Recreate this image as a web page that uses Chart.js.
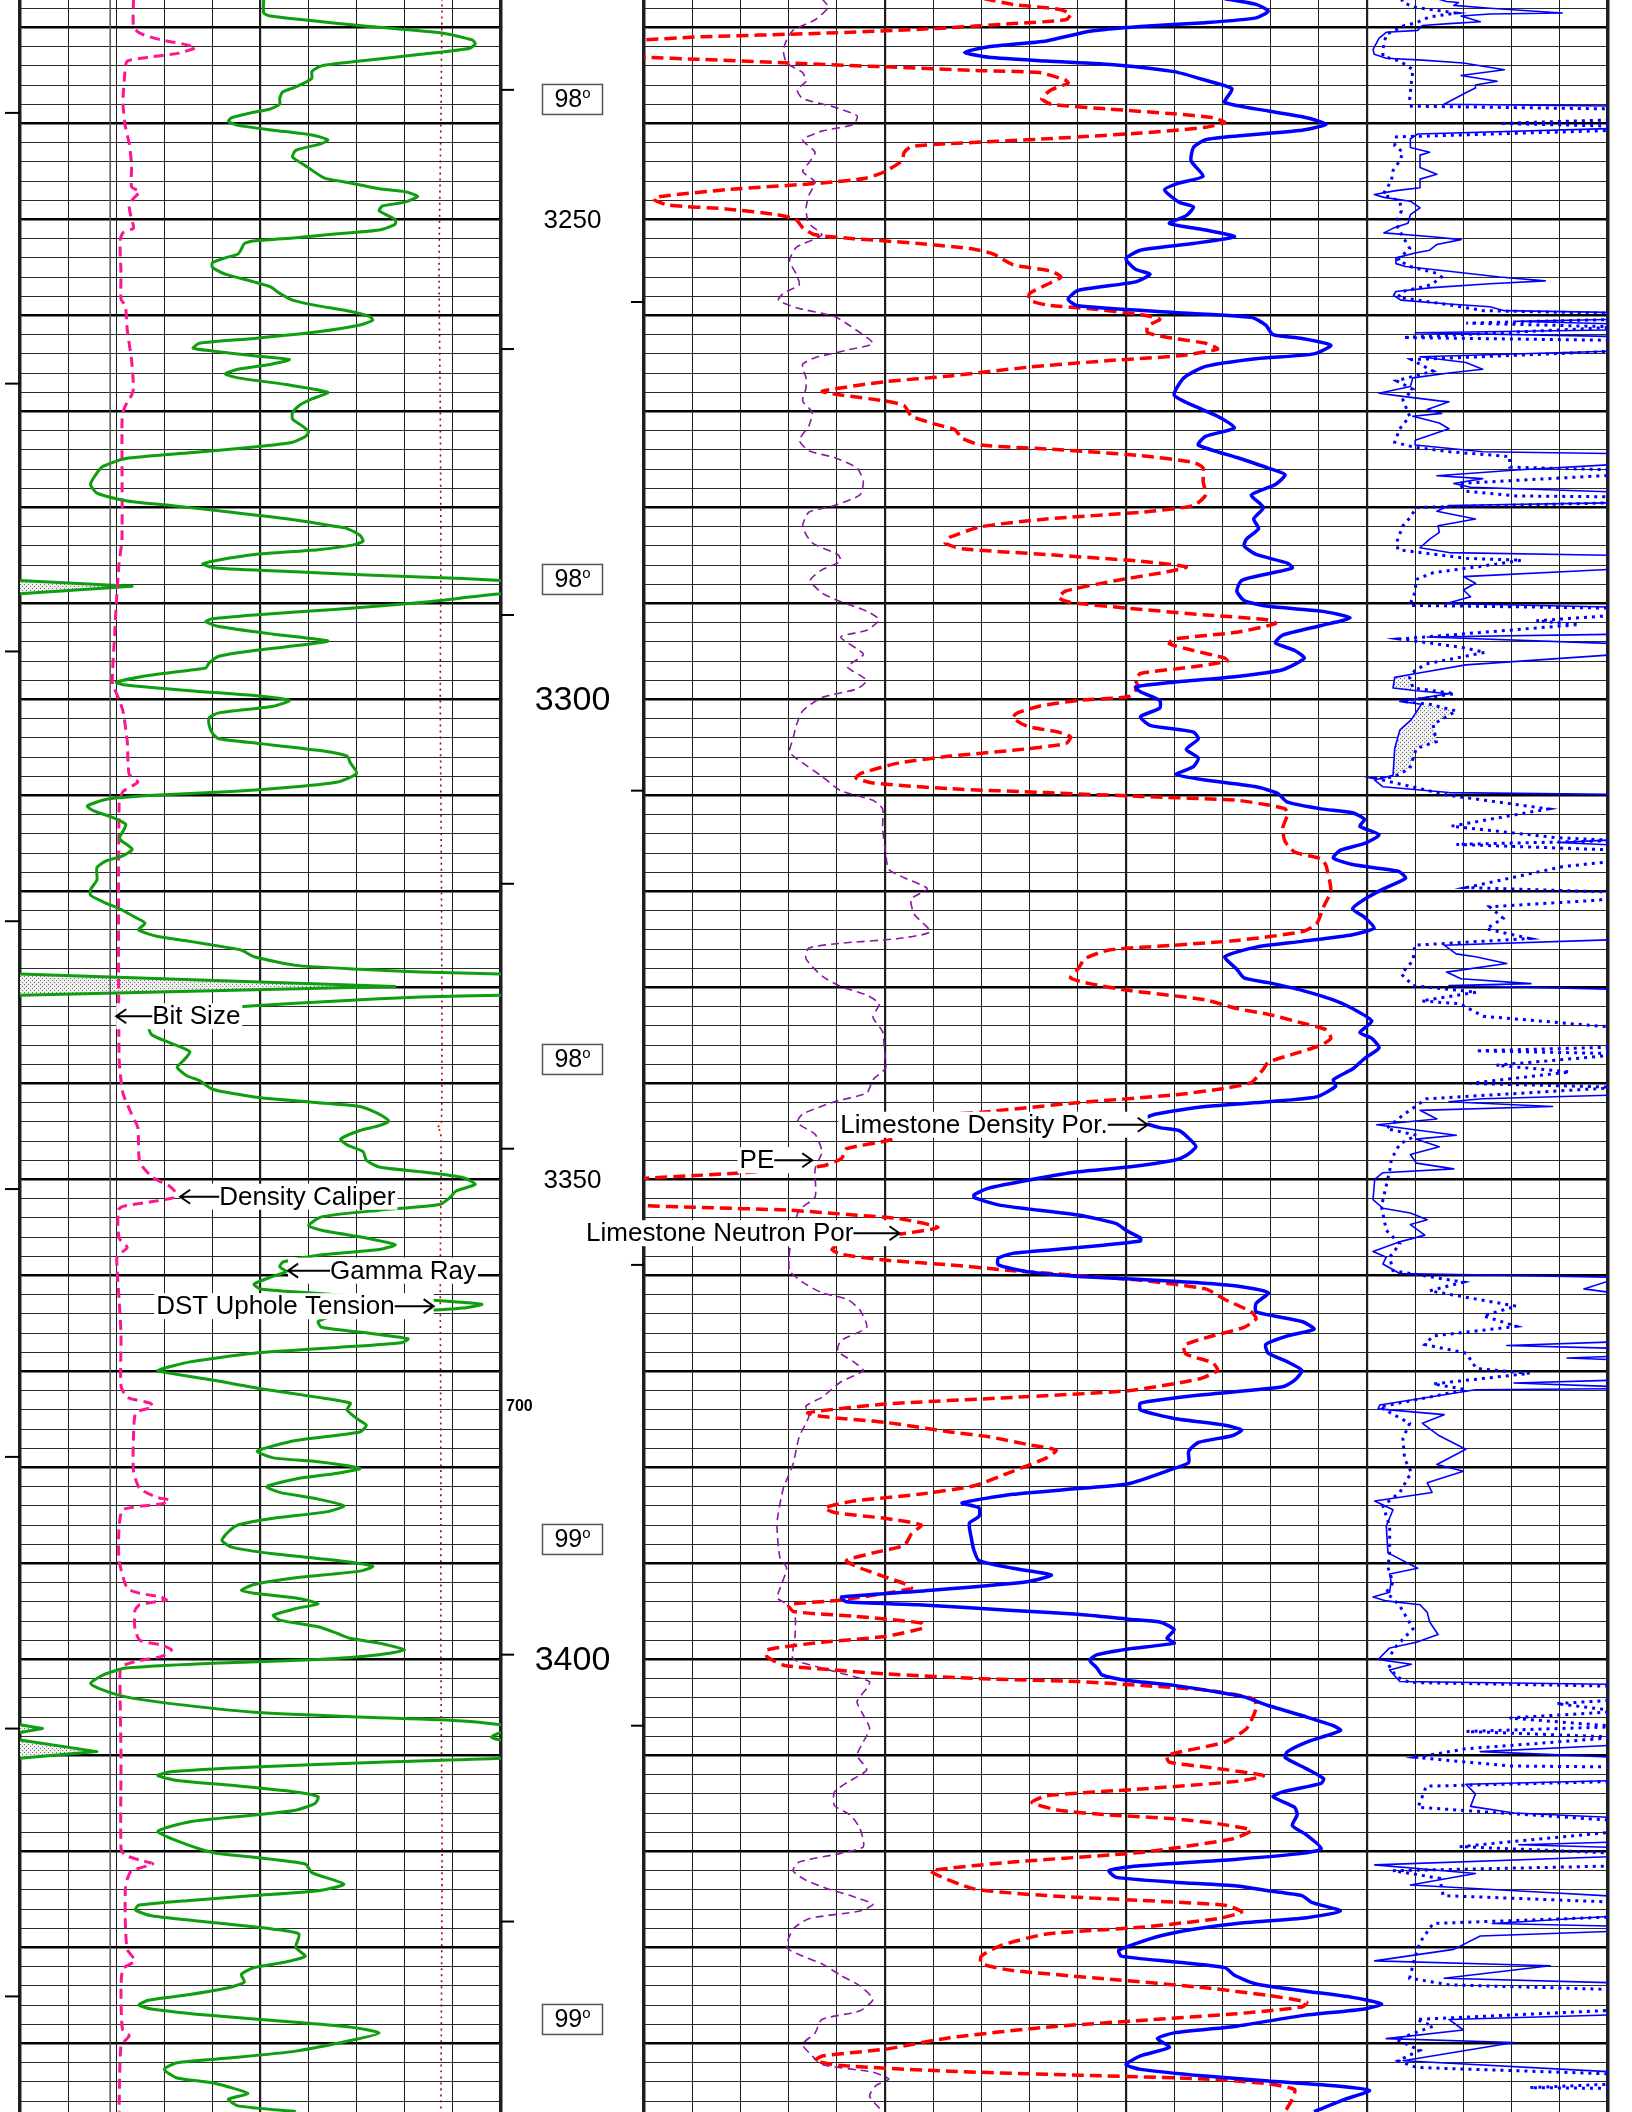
<!DOCTYPE html>
<html>
<head>
<meta charset="utf-8">
<title>Log 3227-3447 ft</title>
<script src="https://cdn.jsdelivr.net/npm/chart.js@4.4.1/dist/chart.umd.min.js"></script>
<style>
  html, body { margin: 0; padding: 0; background: #fff; }
  #sheet { position: relative; width: 1632px; height: 2112px; overflow: hidden; background: #fff; }
  #sheet canvas { position: absolute; top: 0; }
  #trackLeft { left: 0; }
  #trackRight { left: 498px; }
</style>
</head>
<body>
<div id="sheet">
  <canvas id="trackLeft" width="512" height="2112"></canvas>
  <canvas id="trackRight" width="1134" height="2112"></canvas>
</div>
<script>
// depth window shown on the sheet (ft)
const TOP_DEPTH = 3227.14;
const BASE_DEPTH = 3447.14;

// ---- track 1: [depth, value] ----
// gamma ray, API (0-150 across the track, values above 150 run off the edge)
const gammaRay = [
  [3227.0,76],[3228.5,76],[3228.8,78],[3229.8,106],[3230.6,132],[3231.3,141],[3231.7,142],[3232.2,140],[3232.8,125],[3233.5,106],
  [3234.0,94],[3234.6,91],[3235.3,91],[3236.2,86],[3236.7,82],[3237.4,81],[3238.0,81],[3238.5,78],[3238.9,72],[3239.4,66],
  [3239.8,65],[3240.2,68],[3240.7,79],[3241.2,91],[3241.7,96],[3242.1,94],[3242.8,86],[3243.5,85],[3244.4,89],[3245.7,95],
  [3246.2,103],[3246.8,112],[3247.1,120],[3247.6,124],[3248.2,120],[3248.6,113],[3249.1,112],[3250.0,117],[3250.5,117],[3251.1,112],
  [3251.5,99],[3251.9,86],[3252.2,74],[3252.5,70],[3253.1,69],[3253.6,68],[3254.0,64],[3254.5,60],[3255.0,60],[3255.7,64],
  [3256.5,73],[3257.0,78],[3257.7,81],[3258.4,85],[3259.0,93],[3259.5,102],[3260.1,109],[3260.5,110],[3261.0,106],[3261.7,93],
  [3262.4,73],[3262.9,56],[3263.4,54],[3263.7,60],[3264.2,73],[3264.6,84],[3265.1,78],[3265.6,68],[3266.1,64],[3266.5,68],
  [3267.2,83],[3268.0,96],[3268.7,91],[3269.4,87],[3270.1,85],[3270.8,85],[3271.5,88],[3272.1,90],[3272.6,89],[3273.2,85],
  [3273.7,73],[3274.3,53],[3274.9,33],[3275.7,26],[3276.4,24],[3277.6,22],[3278.5,24],[3279.3,33],[3279.8,47],[3280.5,66],
  [3281.3,86],[3282.0,99],[3282.2,102],[3282.9,106],[3283.5,107],[3283.9,104],[3284.4,93],[3284.9,73],[3285.6,60],[3285.9,57],
  [3286.3,61],[3286.7,86],[3287.1,112],[3287.4,138],[3287.6,150],[3288.2,185],[3289.0,150],[3289.9,125],[3290.6,99],[3291.2,73],
  [3291.6,60],[3291.9,58],[3292.4,62],[3293.2,79],[3293.9,96],[3294.2,91],[3294.9,73],[3295.5,62],[3296.2,59],[3296.7,58],
  [3296.9,54],[3297.5,40],[3298.2,30],[3298.5,33],[3299.1,53],[3299.6,73],[3300.1,84],[3300.7,79],[3301.4,62],[3301.9,59],
  [3302.7,59],[3303.5,60],[3304.1,62],[3304.6,75],[3305.3,93],[3305.9,102],[3306.6,103],[3307.7,105],[3308.6,99],[3309.1,86],
  [3309.6,66],[3310.0,40],[3310.4,27],[3311.1,21],[3311.6,23],[3312.3,29],[3313.0,33],[3313.8,32],[3314.5,31],[3315.6,35],
  [3316.3,32],[3316.8,27],[3317.5,24],[3318.8,24],[3319.8,22],[3320.4,22],[3321.1,26],[3321.8,31],[3322.7,36],[3323.3,39],
  [3324.0,37],[3324.7,43],[3325.2,53],[3325.8,64],[3326.1,69],[3326.8,73],[3327.7,86],[3328.1,106],[3328.4,125],[3328.6,150],
  [3329.9,267],[3330.8,150],[3331.0,125],[3331.4,99],[3331.9,73],[3332.4,53],[3333.1,43],[3333.8,40],[3334.9,41],[3335.8,47],
  [3336.7,53],[3337.6,51],[3338.3,49],[3339.2,52],[3339.7,56],[3340.6,60],[3341.4,73],[3342.0,93],[3342.4,106],[3343.2,112],
  [3343.9,115],[3344.4,112],[3344.9,106],[3345.8,100],[3346.4,102],[3347.1,107],[3348.0,108],[3348.7,112],[3349.2,125],[3349.8,138],
  [3350.5,142],[3351.2,136],[3351.9,134],[3352.6,131],[3353.2,112],[3353.9,94],[3354.8,90],[3355.3,94],[3356.1,108],[3356.8,117],
  [3357.3,112],[3357.9,93],[3358.6,82],[3359.1,81],[3359.6,83],[3360.2,78],[3360.9,73],[3361.4,75],[3362.0,99],[3362.5,125],
  [3363.0,144],[3363.4,138],[3363.7,125],[3364.1,99],[3364.8,93],[3365.4,94],[3365.9,106],[3366.6,121],[3367.0,119],[3367.5,99],
  [3368.1,73],[3369.0,53],[3369.9,43],[3370.2,47],[3370.9,60],[3371.8,75],[3372.7,93],[3373.3,103],[3374.0,102],[3374.9,105],
  [3375.6,108],[3376.3,106],[3377.2,86],[3378.3,74],[3379.0,79],[3379.4,93],[3380.1,106],[3380.6,99],[3381.2,86],[3382.0,77],
  [3382.6,81],[3383.3,93],[3384.0,101],[3384.6,96],[3385.3,79],[3386.0,68],[3386.7,65],[3387.6,63],[3388.3,66],[3389.0,79],
  [3389.7,99],[3390.3,110],[3390.8,106],[3391.5,86],[3392.2,73],[3392.8,69],[3393.1,73],[3393.6,86],[3394.2,93],[3394.7,86],
  [3395.4,79],[3395.9,81],[3396.6,93],[3397.3,99],[3397.8,103],[3398.3,112],[3399.0,120],[3399.5,112],[3400.0,93],[3400.4,60],
  [3400.9,33],[3401.6,26],[3402.5,22],[3403.2,26],[3403.9,33],[3404.6,47],[3405.5,73],[3406.0,106],[3406.4,138],[3406.8,150],
  [3407.2,157],[3407.6,150],[3408.1,147],[3408.4,150],[3409.6,174],[3410.3,150],[3410.7,112],[3411.2,73],[3411.7,47],[3412.1,43],
  [3412.6,49],[3413.1,66],[3413.8,86],[3414.3,93],[3415.0,92],[3415.7,86],[3416.2,73],[3416.9,53],[3417.9,43],[3418.9,49],
  [3420.1,60],[3420.6,73],[3421.3,89],[3422.2,91],[3423.4,101],[3424.1,93],[3424.6,73],[3425.1,53],[3425.6,37],[3426.1,36],
  [3426.7,41],[3427.4,60],[3428.1,79],[3428.6,87],[3430.0,86],[3430.9,89],[3431.5,83],[3432.1,73],[3432.8,69],[3433.6,70],
  [3434.2,65],[3434.9,53],[3435.5,40],[3436.0,37],[3436.4,41],[3437.1,60],[3437.8,86],[3438.3,103],[3438.9,112],[3439.7,103],
  [3440.8,86],[3441.5,66],[3442.0,49],[3442.7,45],[3443.6,49],[3444.1,60],[3445.2,71],[3445.8,65],[3446.5,68],[3447.1,86]
];
// the part of gamma ray above 150 API, replotted from the left edge (GR - 150)
const gammaWrap = [
  [3287.6,0],[3288.2,35],[3289.0,0],[3300.0,null],
  [3328.6,0],[3329.9,117],[3330.8,0],[3360.0,null],
  [3406.8,0],[3407.2,7],[3407.6,0],[3408.0,null],
  [3408.4,0],[3409.6,24],[3410.3,0]
];
// density caliper, in (6-16)
const densityCaliper = [
  [3227.0,8.36],[3229.9,8.36],[3230.6,8.49],[3231.3,8.93],[3231.7,9.37],[3232.1,9.65],[3232.7,9.28],[3233.1,8.67],[3233.5,8.23],[3234.2,8.19],
  [3237.8,8.14],[3240.3,8.19],[3242.1,8.27],[3244.3,8.32],[3246.6,8.32],[3247.1,8.49],[3247.8,8.36],[3248.6,8.27],[3250.0,8.32],[3250.9,8.36],
  [3251.4,8.14],[3252.2,8.08],[3255.7,8.10],[3258.3,8.10],[3259.0,8.19],[3261.5,8.23],[3264.7,8.32],[3267.6,8.36],[3268.3,8.32],[3269.0,8.23],
  [3270.1,8.14],[3271.2,8.12],[3283.3,8.12],[3285.8,8.06],[3289.4,8.01],[3293.0,7.97],[3298.4,7.92],[3299.4,8.01],[3301.2,8.14],[3304.4,8.23],
  [3307.8,8.27],[3308.6,8.45],[3309.6,8.14],[3310.9,8.06],[3337.4,8.06],[3341.0,8.14],[3343.2,8.32],[3344.6,8.45],[3348.2,8.49],[3349.8,8.76],
  [3350.7,9.11],[3351.4,9.24],[3351.9,9.19],[3352.3,8.76],[3352.8,8.14],[3353.2,8.04],[3356.1,8.06],[3357.1,8.23],[3357.8,8.06],[3358.2,8.01],
  [3362.5,8.06],[3366.1,8.10],[3371.5,8.10],[3372.7,8.23],[3373.3,8.71],[3373.7,8.76],[3374.3,8.41],[3376.8,8.36],[3380.4,8.36],[3382.2,8.49],
  [3383.1,8.84],[3383.4,9.11],[3383.8,8.93],[3384.4,8.14],[3386.2,8.06],[3389.7,8.06],[3392.6,8.23],[3393.1,8.49],[3393.5,8.93],[3393.8,9.04],
  [3394.3,8.49],[3394.9,8.39],[3396.8,8.39],[3398.0,8.49],[3398.5,8.93],[3399.0,9.15],[3399.7,8.93],[3400.2,8.41],[3400.8,8.10],[3403.0,8.08],
  [3410.0,8.10],[3419.7,8.10],[3420.4,8.19],[3420.9,8.49],[3421.3,8.76],[3422.0,8.32],[3422.9,8.23],[3423.9,8.19],[3427.4,8.19],[3430.2,8.23],
  [3431.4,8.39],[3432.2,8.14],[3434.3,8.10],[3438.5,8.13],[3439.2,8.27],[3440.2,8.10],[3447.1,8.06]
];
const bitSize = [[3227.0,7.875],[3447.2,7.875]];
// DST uphole tension (0-800 scale)
const dstTension = [
  [3227.0,702],[3240.0,700],[3255.0,697],[3270.0,699],[3285.0,700],[3300.0,699],[3320.0,701],[3344.2,701],
  [3344.6,693],[3345.0,700],[3360.0,699],[3380.0,700],[3400.0,700],[3420.0,702],[3447.2,700]
];

// ---- track 2/3 ----
// photoelectric factor, b/e (0-20 across the track)
const pePhoto = [
  [3227.0,3.69],[3227.9,3.82],[3229.2,3.55],[3230.3,3.09],[3231.3,2.96],[3232.4,2.89],[3233.7,2.96],[3234.7,3.29],[3235.6,3.36],[3236.5,3.18],
  [3237.4,3.29],[3238.3,3.95],[3239.2,4.42],[3240.1,4.35],[3240.8,3.69],[3241.7,3.29],[3243.0,3.55],[3244.1,3.42],[3245.0,3.29],[3246.1,3.55],
  [3247.5,3.42],[3248.9,3.36],[3250.4,3.42],[3251.6,3.69],[3252.9,3.16],[3254.3,3.02],[3255.7,3.16],[3256.8,3.22],[3257.7,2.89],[3258.4,2.79],
  [3259.2,3.16],[3260.1,3.95],[3261.1,4.28],[3262.9,4.75],[3263.6,4.22],[3264.4,3.55],[3265.1,3.29],[3266.5,3.36],[3267.6,3.36],[3268.9,3.29],
  [3270.1,3.49],[3271.5,3.42],[3273.0,3.22],[3274.1,3.42],[3274.8,3.95],[3275.9,4.42],[3277.3,4.55],[3278.7,4.48],[3279.8,3.95],[3280.5,3.42],
  [3282.0,3.29],[3283.7,3.49],[3284.9,4.02],[3285.6,4.08],[3286.5,3.69],[3287.6,3.45],[3288.9,3.69],[3289.7,4.02],[3290.8,4.62],[3291.7,4.88],
  [3292.8,4.62],[3293.5,4.08],[3295.3,4.55],[3296.6,4.22],[3298.0,4.62],[3298.9,4.42],[3299.8,3.69],[3301.2,3.29],[3302.7,3.16],[3304.1,3.09],
  [3305.5,3.02],[3306.6,3.29],[3308.0,3.69],[3309.5,4.08],[3310.5,4.75],[3311.4,4.95],[3313.4,4.95],[3315.9,5.01],[3317.7,5.08],[3318.6,5.41],
  [3319.7,5.88],[3320.8,5.54],[3322.4,5.61],[3324.2,5.94],[3324.9,5.28],[3325.4,4.08],[3325.9,3.42],[3327.0,3.36],[3328.8,3.69],[3329.9,4.08],
  [3330.8,4.62],[3331.7,4.88],[3333.1,4.75],[3334.6,4.95],[3336.7,4.99],[3338.4,5.01],[3339.6,4.75],[3341.0,4.62],[3341.9,3.95],[3343.2,3.29],
  [3344.1,3.18],[3345.3,3.55],[3347.1,3.69],[3348.9,3.55],[3351.8,3.55],[3353.2,3.22],[3355.3,3.09],[3357.5,3.02],[3359.5,3.02],[3360.7,3.29],
  [3361.8,3.69],[3362.5,4.22],[3363.6,4.48],[3365.4,4.62],[3366.8,4.08],[3367.9,4.02],[3369.0,4.35],[3369.9,4.55],[3371.1,4.08],[3372.7,3.69],
  [3373.6,3.36],[3374.7,3.42],[3376.8,3.22],[3379.7,3.09],[3382.2,2.89],[3385.8,2.76],[3389.4,2.82],[3390.5,2.96],[3393.6,2.76],[3394.0,2.89],
  [3395.4,3.13],[3397.8,3.13],[3399.9,3.09],[3400.9,3.69],[3401.6,4.22],[3402.3,4.68],[3403.0,4.62],[3404.4,4.42],[3405.8,4.55],[3407.2,4.68],
  [3408.6,4.55],[3410.0,4.42],[3411.5,4.62],[3412.8,4.22],[3413.8,3.95],[3415.2,3.95],[3416.2,4.28],[3417.6,4.48],[3419.5,4.55],[3420.2,4.08],
  [3421.1,3.22],[3422.0,3.09],[3423.0,3.36],[3423.9,3.82],[3424.6,4.28],[3425.5,4.75],[3426.2,4.48],[3427.0,3.42],[3428.1,3.09],[3430.0,2.96],
  [3430.9,3.29],[3431.7,3.69],[3432.9,4.08],[3434.0,4.48],[3435.4,4.75],[3436.6,4.48],[3437.5,3.69],[3438.9,3.55],[3440.1,3.29],[3441.3,3.49],
  [3442.2,3.69],[3443.0,4.75],[3443.7,5.08],[3444.4,4.81],[3445.5,4.68],[3447.1,4.95]
];
// limestone neutron porosity, % (30 to -10)
const neutronPor = [
  [3227.0,15.9],[3227.6,14.7],[3228.1,12.8],[3228.6,12.3],[3229.2,12.5],[3229.6,14.7],[3230.1,17.8],[3230.6,22.6],[3231.0,27.9],[3231.3,30.0],
  [3232.0,34.0],[3233.1,29.8],[3233.3,27.9],[3233.7,24.0],[3234.1,20.0],[3234.5,16.0],[3234.7,13.6],[3235.5,12.5],[3235.8,12.4],[3236.5,13.1],
  [3237.4,13.5],[3238.0,13.1],[3238.5,10.7],[3239.0,8.0],[3239.4,6.4],[3239.9,5.9],[3240.4,6.7],[3241.0,9.4],[3241.6,13.3],[3242.1,17.3],
  [3242.4,18.9],[3243.0,19.2],[3243.9,19.3],[3245.0,20.0],[3245.7,20.8],[3246.2,22.6],[3246.9,26.6],[3247.6,29.3],[3247.9,29.6],[3248.5,29.0],
  [3248.9,26.6],[3249.5,24.5],[3250.0,23.7],[3250.9,23.4],[3251.6,22.9],[3252.0,21.3],[3252.5,18.6],[3253.1,16.3],[3253.6,15.5],[3254.7,14.7],
  [3255.4,13.1],[3256.0,12.7],[3256.8,13.3],[3257.7,14.0],[3258.4,14.0],[3258.9,13.3],[3259.3,11.5],[3259.9,9.4],[3260.4,8.6],[3261.1,9.1],
  [3261.8,9.1],[3262.4,8.0],[3262.9,6.7],[3263.5,6.2],[3264.2,7.8],[3264.7,10.7],[3265.4,14.1],[3266.3,17.3],[3266.9,20.0],[3267.9,22.6],
  [3268.3,21.8],[3268.9,20.0],[3269.4,19.2],[3270.5,18.9],[3271.4,17.8],[3271.9,17.1],[3272.8,16.8],[3273.5,16.0],[3273.9,13.3],[3274.6,9.4],
  [3275.3,7.2],[3275.9,6.8],[3277.3,6.8],[3278.7,6.7],[3279.8,7.2],[3280.5,9.4],[3281.2,13.3],[3282.0,16.0],[3283.1,17.3],[3283.7,17.5],
  [3284.3,16.8],[3284.9,13.3],[3285.6,9.4],[3286.2,7.5],[3286.7,8.3],[3287.6,10.4],[3288.7,12.5],[3289.4,12.8],[3289.9,12.3],[3290.5,9.9],
  [3291.2,6.7],[3291.7,4.1],[3292.1,3.8],[3293.0,5.4],[3293.7,8.0],[3294.2,8.2],[3294.9,7.2],[3295.7,5.9],[3296.0,5.8],[3296.6,7.2],
  [3297.3,9.4],[3298.0,9.6],[3298.7,9.5],[3299.7,9.9],[3300.1,12.0],[3300.7,13.6],[3301.4,14.5],[3301.9,14.7],[3302.8,14.1],[3303.4,12.8],
  [3303.9,12.3],[3304.6,12.5],[3305.3,14.7],[3305.9,17.3],[3306.6,19.4],[3307.7,21.0],[3308.2,21.2],[3308.7,20.5],[3309.3,17.3],[3309.7,13.3],
  [3310.1,9.4],[3310.5,5.4],[3311.0,4.1],[3311.4,3.4],[3312.0,3.3],[3313.4,3.5],[3314.8,3.4],[3315.9,3.0],[3316.6,1.9],[3317.3,1.7],
  [3319.9,1.5],[3321.6,1.8],[3323.4,2.1],[3324.2,2.7],[3325.1,5.4],[3325.6,8.0],[3326.1,10.7],[3327.0,11.7],[3328.1,12.0],[3329.0,12.3],
  [3329.6,11.5],[3330.3,9.9],[3331.3,6.7],[3332.2,5.4],[3332.8,4.1],[3333.7,2.7],[3334.4,1.7],[3335.3,1.5],[3336.0,1.9],[3336.9,3.0],
  [3337.8,4.1],[3338.5,4.3],[3339.9,4.8],[3340.5,5.9],[3341.2,8.0],[3342.0,12.0],[3343.0,16.0],[3343.5,18.6],[3344.6,19.4],[3345.8,19.7],
  [3346.8,21.6],[3347.8,21.8],[3348.6,22.6],[3349.2,25.3],[3349.6,27.9],[3349.9,30.0],[3351.2,35.0],[3352.7,30.0],[3352.9,27.9],[3353.2,24.0],
  [3353.7,21.3],[3354.1,19.4],[3355.0,17.8],[3355.7,19.4],[3356.6,21.8],[3357.3,22.2],[3357.8,21.8],[3358.4,20.0],[3358.9,17.3],[3359.5,14.7],
  [3360.0,12.0],[3360.5,9.4],[3361.4,6.7],[3362.5,5.9],[3363.8,4.8],[3364.5,4.6],[3365.4,5.1],[3366.5,6.7],[3367.3,7.6],[3368.2,7.5],
  [3369.1,6.4],[3369.9,6.2],[3370.8,7.0],[3372.0,9.9],[3372.7,14.7],[3373.4,20.0],[3374.3,23.2],[3374.7,22.6],[3375.3,20.0],[3376.3,17.3],
  [3376.8,15.7],[3377.6,14.1],[3378.2,12.9],[3379.0,13.3],[3380.4,14.7],[3381.9,16.3],[3382.8,18.6],[3383.5,21.3],[3384.2,22.5],[3384.7,22.1],
  [3385.3,20.0],[3386.0,18.5],[3386.9,18.9],[3388.1,19.2],[3388.9,20.5],[3389.7,21.6],[3390.5,21.0],[3391.4,20.0],[3392.1,19.2],[3392.6,18.9],
  [3393.8,21.8],[3394.3,24.0],[3395.0,23.8],[3395.5,21.3],[3396.2,18.5],[3396.7,18.4],[3397.6,20.0],[3398.2,22.6],[3399.0,24.9],[3399.7,24.9],
  [3400.6,24.2],[3401.0,22.6],[3401.5,20.0],[3402.0,16.0],[3402.3,12.0],[3402.7,9.4],[3403.2,6.7],[3404.1,4.7],[3405.1,4.6],[3407.2,5.0],
  [3408.6,5.9],[3410.0,8.3],[3410.7,8.2],[3411.2,6.7],[3412.1,4.3],[3412.7,5.4],[3413.5,9.4],[3414.2,13.3],[3414.9,13.9],[3415.7,12.8],
  [3416.2,10.7],[3416.6,8.0],[3417.1,6.2],[3417.8,4.8],[3418.7,5.6],[3420.1,9.4],[3421.1,14.7],[3422.0,18.1],[3422.5,17.8],[3423.9,16.3],
  [3424.6,13.3],[3425.1,9.4],[3425.6,5.9],[3426.3,5.2],[3427.0,6.2],[3427.9,9.4],[3428.6,13.3],[3429.8,15.2],[3430.9,16.0],[3431.7,16.0],
  [3432.4,14.7],[3433.3,10.7],[3434.2,6.7],[3435.0,4.1],[3435.7,2.5],[3436.2,2.7],[3436.9,5.4],[3437.6,9.4],[3438.3,13.3],[3439.4,17.3],
  [3440.6,20.0],[3441.3,22.6],[3441.8,22.9],[3442.3,21.8],[3442.9,17.3],[3443.3,12.0],[3443.7,6.7],[3444.2,4.1],[3444.8,3.0],[3445.8,3.1],
  [3447.1,3.4]
];
// limestone density porosity, % (30 to -10)
const densityPor = [
  [3227.0,5.9],[3227.6,4.6],[3228.3,4.1],[3229.0,4.6],[3229.5,6.7],[3229.9,9.4],[3230.4,11.5],[3231.4,13.3],[3232.0,15.7],[3232.6,16.7],
  [3233.1,15.7],[3233.5,13.3],[3233.9,10.4],[3234.6,8.0],[3235.5,6.7],[3236.4,5.6],[3237.8,5.9],[3238.7,4.1],[3239.4,2.5],[3240.1,1.7],
  [3240.7,2.7],[3241.3,5.4],[3241.7,6.7],[3242.5,7.2],[3243.9,7.3],[3245.5,6.8],[3246.2,7.8],[3246.9,8.4],[3248.2,7.8],[3248.7,7.2],
  [3249.6,7.5],[3250.4,8.2],[3251.1,6.7],[3251.8,5.5],[3252.5,7.2],[3253.2,9.4],[3254.1,10.0],[3255.2,9.6],[3255.7,9.0],[3256.5,9.6],
  [3257.4,12.0],[3258.3,12.4],[3259.0,12.0],[3259.7,8.0],[3260.2,4.8],[3261.0,4.2],[3262.0,3.9],[3262.4,2.7],[3263.1,1.5],[3264.0,2.2],
  [3264.5,4.6],[3265.3,6.7],[3266.5,7.6],[3268.3,8.0],[3269.4,7.2],[3270.5,6.2],[3271.7,5.5],[3272.6,6.7],[3273.5,7.0],[3274.8,5.4],
  [3275.9,4.1],[3276.6,3.4],[3277.6,3.8],[3278.7,4.8],[3280.0,4.3],[3281.2,4.7],[3282.2,4.5],[3283.3,5.0],[3284.0,5.1],[3284.9,4.6],
  [3285.8,3.3],[3286.3,3.1],[3286.9,4.1],[3287.6,5.2],[3288.7,5.4],[3289.7,5.1],[3290.3,4.1],[3290.8,1.9],[3291.5,0.7],[3292.3,1.9],
  [3293.3,3.5],[3294.1,3.8],[3294.9,3.0],[3295.7,2.6],[3296.9,3.5],[3297.6,5.4],[3298.2,8.0],[3298.7,9.6],[3299.2,9.4],[3300.1,8.6],
  [3300.9,8.6],[3301.8,9.4],[3302.7,9.0],[3303.4,7.2],[3304.1,7.0],[3305.2,7.5],[3306.1,7.0],[3307.0,7.2],[3307.8,7.9],[3308.4,6.7],
  [3309.1,4.6],[3309.8,3.7],[3310.7,3.3],[3311.4,1.9],[3311.8,0.6],[3312.5,0.1],[3313.2,0.3],[3314.1,-0.5],[3315.0,0.1],[3315.7,1.1],
  [3316.5,1.4],[3317.2,0.6],[3317.9,-1.3],[3318.6,-1.6],[3319.7,-0.7],[3320.8,0.1],[3321.8,0.6],[3322.7,0.1],[3323.8,-0.3],[3324.5,0.6],
  [3325.2,2.7],[3325.8,4.6],[3326.8,5.9],[3328.1,5.4],[3329.0,5.1],[3329.5,4.1],[3330.3,2.7],[3331.3,1.4],[3332.2,0.6],[3333.5,-0.2],
  [3334.7,0.3],[3335.3,-0.2],[3336.3,-0.5],[3337.4,0.1],[3338.5,0.6],[3339.6,1.4],[3340.3,1.3],[3341.4,2.1],[3341.9,4.1],[3342.4,6.7],
  [3343.2,8.8],[3343.9,9.4],[3344.6,8.6],[3344.9,7.8],[3345.7,7.4],[3346.6,7.1],[3347.5,7.5],[3348.0,8.0],[3348.7,9.9],[3349.2,12.0],
  [3350.0,13.9],[3350.9,15.7],[3351.6,16.3],[3351.9,16.3],[3352.7,15.2],[3353.7,12.0],[3354.6,10.4],[3355.3,10.0],[3356.1,9.4],[3356.4,9.4],
  [3357.1,12.0],[3357.7,14.7],[3358.2,15.3],[3358.9,15.3],[3359.6,14.1],[3360.1,12.0],[3360.6,8.0],[3361.1,5.4],[3361.8,4.1],[3362.9,4.6],
  [3363.8,4.6],[3364.8,2.7],[3365.6,2.2],[3366.3,3.3],[3367.2,4.2],[3368.1,4.1],[3369.0,3.3],[3369.9,2.7],[3370.9,3.0],[3371.6,3.5],
  [3372.4,6.7],[3373.3,9.4],[3374.0,9.4],[3374.9,8.0],[3375.6,5.9],[3376.1,5.2],[3376.7,5.6],[3377.4,7.0],[3378.3,7.4],[3379.5,7.4],
  [3380.1,8.0],[3381.7,9.9],[3382.2,12.0],[3382.8,14.7],[3383.7,16.8],[3384.2,16.1],[3385.1,16.1],[3385.8,16.5],[3387.6,16.4],[3388.7,16.3],
  [3389.7,16.1],[3390.5,14.7],[3391.2,13.1],[3391.9,14.1],[3392.9,18.6],[3393.5,21.8],[3394.0,21.6],[3394.3,18.6],[3394.9,14.7],[3395.3,12.0],
  [3395.8,9.9],[3396.1,8.6],[3396.9,8.0],[3397.8,8.3],[3398.3,8.0],[3398.9,9.9],[3399.5,11.2],[3400.1,11.5],[3400.9,11.2],[3401.6,11.0],
  [3402.2,9.9],[3402.7,8.0],[3403.4,6.2],[3403.9,5.1],[3404.8,4.1],[3406.0,2.5],[3406.9,1.4],[3407.4,1.1],[3408.6,2.5],[3409.6,3.3],
  [3410.2,3.4],[3411.4,2.5],[3412.4,1.8],[3412.9,1.9],[3413.8,3.5],[3414.3,3.9],[3415.4,3.0],[3416.2,2.9],[3417.3,3.1],[3418.3,2.5],
  [3419.7,1.9],[3420.2,2.7],[3420.8,5.4],[3421.5,9.4],[3422.0,10.7],[3422.7,10.4],[3423.2,8.0],[3423.6,5.4],[3424.1,4.1],[3424.6,2.7],
  [3425.3,2.3],[3426.2,1.1],[3426.9,2.5],[3427.5,5.4],[3428.1,7.2],[3428.8,8.6],[3429.6,9.6],[3430.3,10.3],[3430.9,10.2],[3431.5,8.0],
  [3432.1,5.9],[3432.9,5.5],[3433.8,4.6],[3434.5,2.7],[3435.2,0.6],[3435.9,-0.6],[3436.4,0.1],[3437.1,2.7],[3438.2,5.4],[3438.9,8.0],
  [3439.5,8.7],[3440.4,8.2],[3441.3,9.4],[3442.2,10.0],[3442.7,9.4],[3443.4,6.7],[3443.9,4.1],[3444.4,1.4],[3444.9,-0.1],[3445.8,0.9],
  [3446.9,2.0],[3447.1,2.2]
];
// micro log, ohm-m (0-10 over the right quarter); 10.5 = pegged off the edge
const microNormal = [
  [3227.0,2.9],[3227.3,3.3],[3227.4,3.8],[3227.7,3.6],[3228.0,5.1],[3228.5,8.1],[3228.6,5.1],[3228.8,3.9],[3229.4,4.7],[3229.6,3.4],
  [3229.8,2.3],[3230.3,2.1],[3230.5,0.8],[3231.1,0.5],[3232.3,0.25],[3232.8,0.3],[3233.2,0.8],[3233.4,2.3],[3233.7,4.0],[3234.4,5.7],
  [3235.0,3.9],[3235.6,5.4],[3236.0,4.5],[3236.3,4.5],[3236.8,4.1],[3238.0,3.2],[3238.2,10.5],[3240.5,10.5],[3241.1,2.1],[3241.6,1.8],
  [3242.5,1.8],[3243.0,2.6],[3243.3,2.2],[3244.6,2.2],[3245.3,2.9],[3245.8,2.2],[3246.7,2.2],[3247.0,1.2],[3247.4,0.3],[3247.7,0.7],
  [3248.1,1.8],[3248.8,2.2],[3249.5,1.8],[3250.4,1.7],[3250.9,1.1],[3251.4,0.7],[3251.8,2.7],[3252.1,3.9],[3252.6,2.9],[3253.2,2.6],
  [3253.5,2.0],[3254.0,1.2],[3254.6,1.2],[3254.9,1.6],[3255.4,3.4],[3256.0,5.5],[3256.4,7.4],[3256.7,5.1],[3257.1,2.7],[3257.5,1.2],
  [3257.9,1.1],[3258.4,1.4],[3258.8,3.4],[3259.1,5.1],[3259.5,5.7],[3259.7,10.5],[3260.4,10.5],[3260.6,6.2],[3260.9,10.5],[3261.5,10.5],
  [3261.8,2.0],[3262.2,10.5],[3263.7,10.5],[3264.3,2.2],[3264.9,4.1],[3265.6,4.8],[3266.0,3.4],[3266.5,1.9],[3267.4,1.8],[3268.1,0.5],
  [3268.4,1.4],[3268.9,3.0],[3269.0,3.4],[3269.8,2.5],[3270.2,3.1],[3270.5,1.9],[3271.2,3.0],[3271.8,3.4],[3273.0,2.0],[3273.5,2.0],
  [3274.2,4.8],[3274.4,10.5],[3275.5,10.5],[3276.1,6.2],[3276.7,2.9],[3277.0,4.8],[3277.5,3.6],[3277.9,4.3],[3278.4,10.5],[3279.5,10.5],
  [3279.8,3.4],[3280.4,2.9],[3281.2,4.5],[3281.9,2.95],[3282.6,3.0],[3283.3,2.6],[3284.2,2.2],[3284.7,3.4],[3285.0,10.5],[3286.4,10.5],
  [3287.2,4.0],[3287.9,4.5],[3288.6,4.0],[3289.3,4.3],[3290.0,3.3],[3290.4,10.5],[3293.2,10.5],[3293.5,2.5],[3294.2,10.5],[3295.3,10.5],
  [3296.4,4.1],[3297.4,1.8],[3297.7,1.15],[3298.8,1.08],[3299.1,2.05],[3299.4,3.4],[3300.2,1.36],[3300.5,2.26],[3302.1,1.84],[3303.2,1.36],
  [3305.1,1.15],[3307.9,1.08],[3308.4,0.32],[3309.1,0.66],[3309.7,3.4],[3309.9,10.5],[3314.6,10.5],[3314.9,7.9],[3315.2,10.5],[3325.0,10.5],
  [3325.6,3.2],[3326.5,3.7],[3326.8,4.5],[3327.5,5.8],[3328.4,3.3],[3329.1,3.9],[3329.6,6.8],[3329.8,3.4],[3330.2,10.5],[3341.2,10.5],
  [3341.6,4.8],[3341.9,3.4],[3342.4,7.7],[3342.8,2.2],[3343.7,2.9],[3344.3,0.4],[3345.4,3.7],[3345.8,2.05],[3346.6,3.0],[3347.4,1.8],
  [3348.3,2.05],[3348.9,3.6],[3349.3,0.66],[3350.0,0.32],[3352.1,0.25],[3353.0,0.66],[3353.5,1.8],[3354.2,2.5],[3354.7,1.8],[3355.8,2.4],
  [3356.5,1.36],[3357.5,0.25],[3358.1,0.8],[3358.8,0.66],[3359.8,1.36],[3360.2,10.5],[3361.4,9.0],[3361.9,10.5],[3366.9,10.5],[3367.3,5.8],
  [3367.6,10.5],[3368.4,10.5],[3368.6,8.3],[3368.8,10.5],[3370.9,10.5],[3371.2,6.1],[3371.6,10.5],[3371.8,10.5],[3371.9,4.5],[3373.5,0.53],
  [3373.9,0.46],[3374.5,3.2],[3375.4,2.3],[3376.7,3.0],[3378.1,4.1],[3379.7,2.9],[3380.4,4.0],[3381.6,2.5],[3382.6,2.7],[3383.5,0.32],
  [3384.4,1.08],[3386.1,0.8],[3388.9,0.87],[3390.5,2.1],[3391.1,0.94],[3391.9,1.0],[3393.0,0.94],[3393.5,0.25],[3393.9,0.8],[3394.3,2.2],
  [3395.1,2.5],[3396.1,2.6],[3397.4,2.95],[3398.2,2.05],[3398.8,0.94],[3400.0,0.46],[3400.5,1.84],[3401.1,0.94],[3402.3,1.36],[3402.6,10.5],
  [3408.9,10.5],[3409.6,4.7],[3410.2,10.5],[3412.6,10.5],[3413.0,4.1],[3414.0,4.5],[3415.3,4.3],[3416.0,6.1],[3416.5,10.5],[3419.0,10.5],
  [3419.3,6.3],[3419.6,10.5],[3420.5,10.5],[3421.4,0.32],[3421.9,2.7],[3422.3,4.5],[3423.5,1.8],[3424.2,6.9],[3424.7,10.5],[3426.7,10.5],
  [3427.5,5.2],[3427.8,10.5],[3428.3,10.5],[3428.8,4.7],[3430.2,3.6],[3431.4,0.32],[3431.9,7.6],[3433.2,3.2],[3433.7,10.5],[3437.0,10.5],
  [3437.5,3.4],[3438.6,4.0],[3439.5,0.8],[3439.9,6.1],[3441.8,1.5],[3443.0,10.5],[3447.2,10.5]
];
const microInverse = [
  [3227.0,1.43],[3227.4,1.49],[3227.9,1.98],[3228.5,3.71],[3228.9,2.6],[3229.5,2.05],[3229.8,1.56],[3230.4,1.08],[3230.7,0.8],[3232.3,0.66],
  [3233.0,0.66],[3233.5,1.36],[3234.4,1.91],[3235.8,1.84],[3237.4,1.77],[3238.2,1.84],[3238.5,10.5],[3239.6,10.5],[3240.0,5.5],[3240.3,10.5],
  [3240.7,10.5],[3241.4,1.22],[3242.3,1.15],[3243.0,1.49],[3243.9,1.36],[3244.9,1.08],[3246.0,1.01],[3247.4,0.66],[3248.1,1.36],[3249.1,1.43],
  [3250.2,1.22],[3250.9,1.29],[3251.8,1.49],[3253.0,1.77],[3254.2,1.29],[3254.9,1.77],[3255.6,2.88],[3256.0,3.09],[3256.8,2.67],[3257.5,1.49],
  [3258.1,1.29],[3258.9,3.43],[3259.5,4.82],[3259.8,10.5],[3260.4,10.5],[3260.8,4.12],[3261.2,10.5],[3262.3,1.49],[3262.6,10.5],[3263.7,10.5],
  [3264.6,1.84],[3265.8,2.74],[3266.8,1.22],[3267.7,1.91],[3268.8,1.49],[3270.5,1.77],[3271.8,1.36],[3273.2,1.15],[3273.7,1.91],[3274.2,3.43],
  [3274.7,5.92],[3275.8,5.92],[3276.1,10.5],[3276.6,10.5],[3277.5,3.8],[3278.3,4.12],[3278.8,6.2],[3278.9,10.5],[3279.5,10.5],[3280.0,2.05],
  [3281.1,1.77],[3281.9,1.49],[3283.7,1.22],[3284.4,1.29],[3285.3,4.12],[3285.5,6.41],[3286.1,4.82],[3286.8,2.74],[3287.5,2.05],[3288.9,1.98],
  [3290.2,1.77],[3290.5,10.5],[3291.2,10.5],[3291.8,7.03],[3292.2,8.8],[3293.7,1.36],[3294.6,3.99],[3295.1,4.89],[3296.3,2.46],[3297.0,1.98],
  [3297.7,1.77],[3298.8,1.91],[3299.4,3.64],[3300.2,1.42],[3300.5,2.6],[3301.2,3.71],[3302.6,2.74],[3304.4,2.88],[3305.1,2.05],[3307.2,1.77],
  [3308.1,1.08],[3308.2,0.32],[3310.0,3.43],[3311.4,7.52],[3313.2,3.5],[3314.4,7.86],[3314.7,10.5],[3315.1,3.71],[3315.7,10.5],[3316.8,10.5],
  [3317.4,8.14],[3319.6,4.12],[3320.1,10.5],[3320.9,9.66],[3321.6,5.09],[3322.8,5.65],[3323.9,4.95],[3324.9,6.75],[3325.6,1.98],[3327.2,1.91],
  [3328.6,1.42],[3329.8,1.91],[3330.5,4.54],[3331.4,2.26],[3331.7,3.85],[3333.0,4.82],[3334.2,10.5],[3336.2,10.5],[3336.6,4.5],[3336.9,10.5],
  [3337.0,10.5],[3338.1,5.37],[3338.8,8.42],[3340.0,4.26],[3340.4,10.5],[3341.6,2.46],[3343.3,1.49],[3344.7,0.8],[3345.4,2.05],[3346.3,1.36],
  [3347.9,1.01],[3349.1,0.94],[3352.8,0.6],[3355.3,0.8],[3356.7,1.36],[3358.1,0.94],[3359.5,1.08],[3360.7,3.99],[3361.6,2.6],[3363.2,6.2],
  [3364.2,4.82],[3365.3,6.2],[3366.3,2.74],[3367.2,2.4],[3368.1,4.12],[3369.7,4.54],[3370.2,6.75],[3371.3,2.74],[3371.9,4.12],[3373.7,0.53],
  [3375.4,1.77],[3377.0,1.49],[3379.1,1.56],[3380.5,1.84],[3382.6,1.36],[3384.0,0.66],[3386.1,0.94],[3388.9,0.94],[3390.4,0.87],[3392.0,1.08],
  [3393.0,0.8],[3394.4,1.36],[3396.8,1.91],[3398.6,1.22],[3400.2,0.8],[3401.8,1.22],[3402.4,1.77],[3402.8,10.5],[3404.2,10.5],[3404.6,7.86],
  [3405.4,10.5],[3406.1,5.92],[3407.0,10.5],[3407.5,4.12],[3408.1,10.5],[3409.3,4.12],[3410.2,2.05],[3411.1,5.92],[3411.2,10.5],[3412.7,10.5],
  [3413.2,2.46],[3415.4,2.12],[3416.1,6.2],[3416.8,10.5],[3417.9,10.5],[3419.5,3.85],[3420.2,10.5],[3421.5,10.5],[3422.0,1.08],[3422.8,3.02],
  [3424.6,3.16],[3425.3,10.5],[3426.8,10.5],[3427.5,2.74],[3429.5,2.19],[3431.1,1.98],[3433.2,1.77],[3433.9,3.43],[3434.4,10.5],[3436.5,10.5],
  [3437.5,2.05],[3438.2,2.74],[3439.6,1.22],[3440.7,2.19],[3441.8,1.29],[3442.5,2.05],[3443.2,10.5],[3444.2,10.5],[3444.6,6.75],[3444.7,10.5],
  [3447.2,10.5]
];
// separation shading between the micro curves: [depth, normal, inverse]
const microShade = [
  [3297.55,1.75,1.75],[3297.8,1.15,1.77],[3298.3,1.1,1.85],[3298.8,1.08,1.91],[3299.0,1.8,1.85],[3299.6,null,null],
  [3300.3,1.9,1.9],[3300.6,2.2,2.6],[3301.2,2.05,3.7],[3302.1,1.84,3.0],[3302.6,1.6,2.74],[3303.2,1.36,2.8],
  [3304.4,1.25,2.88],[3305.1,1.15,2.05],[3306.0,1.12,1.9],[3307.2,1.1,1.77],[3308.0,1.08,1.1]
];

// ---- depth column ----
const depthLabels = [3250, 3300, 3350, 3400];
const tempDepths = [3237.5, 3287.5, 3337.5, 3387.5, 3437.5];
const tempLabels = ['98', '98', '98', '99', '99'];
const depthTicksLeft = [3236.5, 3263.5, 3291.2, 3319.2, 3346.8, 3399.5, 3427.3];
const depthTicksRight = [3258.6, 3309.5, 3358.9, 3406.9];
const sideTicks = [3238.9, 3267.1, 3295.0, 3323.1, 3351.0, 3378.9, 3407.2, 3435.1];
const tensionNote = { text: '700', depth: 3373.7 };

// curve call-outs: arrow tip sits on a value of the named axis
const leftNotes = [
  { text: 'Bit Size', depth: 3333.0, axis: 'cal', value: 8.0, side: 'right', arrow: 36 },
  { text: 'Density Caliper', depth: 3351.8, axis: 'cal', value: 9.33, side: 'right', arrow: 39 },
  { text: 'Gamma Ray', depth: 3359.5, axis: 'gr', value: 83.6, side: 'right', arrow: 42 },
  { text: 'DST Uphole Tension', depth: 3363.2, axis: 'ten', value: 688, side: 'left', arrow: 39 }
];
const rightNotes = [
  { text: 'Limestone Density Por.', depth: 3344.3, axis: 'por', value: 9.1, side: 'left', arrow: 40 },
  { text: 'PE', depth: 3348.0, axis: 'pe', value: 3.49, side: 'left', arrow: 38 },
  { text: 'Limestone Neutron Por', depth: 3355.6, axis: 'por', value: 19.4, side: 'left', arrow: 46 }
];

const FONT = '"Liberation Sans", Arial, Helvetica, sans-serif';

// 2 ft grid lines, heavier every 10 ft
const depthGrid = [];
for (let d = 3228; d <= 3446; d += 2) depthGrid.push(d);

function toPoints(rows, col) {
  const c = col || 1;
  return rows.map(r => ({ x: r[c], y: r[0] }));
}

function curve(rows, axis, color, width, dash, extra) {
  return Object.assign({
    data: toPoints(rows),
    xAxisID: axis,
    yAxisID: 'y',
    borderColor: color,
    borderWidth: width,
    borderDash: dash || [],
    borderJoinStyle: 'round',
    pointRadius: 0,
    fill: false,
    tension: 0.2,
    spanGaps: false
  }, extra || {});
}

function stipple() {
  const c = document.createElement('canvas');
  c.width = 4; c.height = 4;
  const g = c.getContext('2d');
  g.fillStyle = '#eeeeee';
  g.fillRect(0, 0, 4, 4);
  g.fillStyle = '#707070';
  g.fillRect(0, 0, 1, 1);
  g.fillRect(2, 2, 1, 1);
  return g.createPattern(c, 'repeat');
}

function depthAxis() {
  return {
    type: 'linear', axis: 'y', position: 'left', reverse: true,
    min: TOP_DEPTH, max: BASE_DEPTH,
    afterBuildTicks: s => { s.ticks = depthGrid.map(v => ({ value: v })); },
    ticks: { display: false },
    border: { display: false },
    grid: {
      drawTicks: false,
      color: c => (c.tick && c.tick.value % 10 === 0 ? '#000' : '#2b2b2b'),
      lineWidth: c => (c.tick && c.tick.value % 10 === 0 ? 2.5 : 1)
    }
  };
}

function gridAxis(min, max, step, widthFor, reverse) {
  return {
    type: 'linear', axis: 'x', position: 'bottom', min, max, reverse: !!reverse,
    ticks: { display: false, stepSize: step },
    border: { display: false },
    grid: {
      drawTicks: false,
      color: '#1e1e1e',
      lineWidth: c => (c.tick ? widthFor(Math.round(c.tick.value)) : 1)
    }
  };
}

function hiddenAxis(min, max) {
  return { type: 'linear', axis: 'x', position: 'bottom', min, max, display: false };
}

function drawNote(ctx, note, scales) {
  const tip = scales[note.axis].getPixelForValue(note.value);
  const y = scales.y.getPixelForValue(note.depth);
  const arrow = note.arrow;
  ctx.font = '26px ' + FONT;
  const w = ctx.measureText(note.text).width;
  const textX = note.side === 'right' ? tip + arrow : tip - arrow - w;
  const boxL = note.side === 'right' ? tip : textX - 2;
  const boxR = note.side === 'right' ? textX + w + 2 : tip;
  ctx.fillStyle = '#fff';
  ctx.fillRect(boxL, y - 13, boxR - boxL, 26);
  ctx.fillStyle = '#000';
  ctx.textAlign = 'left';
  ctx.textBaseline = 'middle';
  ctx.fillText(note.text, textX, y + 1);
  const from = note.side === 'right' ? textX : textX + w;
  const dir = note.side === 'right' ? 1 : -1;
  ctx.strokeStyle = '#000';
  ctx.lineWidth = 2;
  ctx.beginPath();
  ctx.moveTo(from, y);
  ctx.lineTo(tip, y);
  ctx.moveTo(tip + dir * 10, y - 7);
  ctx.lineTo(tip, y);
  ctx.lineTo(tip + dir * 10, y + 7);
  ctx.stroke();
}

const leftMarks = {
  id: 'leftMarks',
  afterDatasetsDraw(chart) {
    const { ctx, chartArea: a, scales } = chart;
    ctx.save();
    ctx.strokeStyle = '#000';
    ctx.lineWidth = 2;
    sideTicks.forEach(d => {
      const py = scales.y.getPixelForValue(d);
      ctx.beginPath();
      ctx.moveTo(a.left - 15, py);
      ctx.lineTo(a.left, py);
      ctx.stroke();
    });
    leftNotes.forEach(n => drawNote(ctx, n, scales));
    ctx.restore();
  }
};

const depthColumn = {
  id: 'depthColumn',
  afterDatasetsDraw(chart) {
    const { ctx, chartArea: a, scales } = chart;
    const y = scales.y;
    const x0 = 3;
    const x1 = a.left;
    const cx = (x0 + x1) / 2;
    ctx.save();
    ctx.strokeStyle = '#000';
    ctx.lineWidth = 2;
    depthTicksLeft.forEach(d => {
      const py = y.getPixelForValue(d);
      ctx.beginPath(); ctx.moveTo(x0, py); ctx.lineTo(x0 + 13, py); ctx.stroke();
    });
    depthTicksRight.forEach(d => {
      const py = y.getPixelForValue(d);
      ctx.beginPath(); ctx.moveTo(x1 - 13, py); ctx.lineTo(x1, py); ctx.stroke();
    });

    ctx.fillStyle = '#000';
    ctx.textAlign = 'center';
    ctx.textBaseline = 'middle';
    depthLabels.forEach(d => {
      ctx.font = (d % 100 === 0 ? '34px ' : '26px ') + FONT;
      ctx.fillText(String(d), cx, y.getPixelForValue(d) + 1);
    });

    // mud temperature boxes
    tempDepths.forEach((d, i) => {
      const py = y.getPixelForValue(d);
      ctx.fillStyle = '#fff';
      ctx.fillRect(cx - 30, py - 15, 60, 30);
      ctx.strokeStyle = '#555';
      ctx.lineWidth = 1.5;
      ctx.strokeRect(cx - 30, py - 15, 60, 30);
      ctx.font = '25px ' + FONT;
      const tw = ctx.measureText(tempLabels[i]).width;
      ctx.font = '15px ' + FONT;
      const ow = ctx.measureText('o').width;
      const start = cx - (tw + ow) / 2;
      ctx.fillStyle = '#000';
      ctx.textAlign = 'left';
      ctx.font = '25px ' + FONT;
      ctx.fillText(tempLabels[i], start, py + 1);
      ctx.font = '15px ' + FONT;
      ctx.fillText('o', start + tw, py - 6);
    });

    ctx.font = 'bold 16px ' + FONT;
    ctx.textAlign = 'left';
    ctx.fillText(tensionNote.text, x0 + 5, y.getPixelForValue(tensionNote.depth));

    rightNotes.forEach(n => drawNote(ctx, n, scales));
    ctx.restore();
  }
};

const common = {
  indexAxis: 'y',
  responsive: false,
  animation: false,
  devicePixelRatio: 1,
  events: [],
  plugins: { legend: { display: false }, tooltip: { enabled: false } }
};

const shade = stipple();
const GREEN = '#0f9e0f';

new Chart(document.getElementById('trackLeft'), {
  type: 'line',
  data: {
    datasets: [
      curve(gammaRay, 'gr', GREEN, 3),
      curve(densityCaliper, 'cal', '#ff1493', 3, [10, 6]),
      curve(bitSize, 'cal', '#555', 1.5),
      curve(dstTension, 'ten', '#b00000', 1.6, [2, 4]),
      curve(gammaWrap, 'gr', GREEN, 3, [], { fill: 'origin', backgroundColor: shade, tension: 0 })
    ]
  },
  options: Object.assign({}, common, {
    layout: { padding: { left: 20, right: 11, top: 0, bottom: 0 }, autoPadding: false },
    scales: {
      y: depthAxis(),
      gr: gridAxis(0, 150, 15, v => (v === 0 || v === 150 ? 3.5 : v === 75 ? 2.2 : 1)),
      cal: hiddenAxis(6, 16),
      ten: hiddenAxis(0, 800)
    }
  }),
  plugins: [leftMarks]
});

new Chart(document.getElementById('trackRight'), {
  type: 'line',
  data: {
    datasets: [
      curve(densityPor, 'por', '#0000ff', 3.5),
      curve(neutronPor, 'por', '#ff0000', 3.5, [12, 6]),
      curve(pePhoto, 'pe', '#8a18a6', 1.6, [8, 5]),
      curve(microNormal, 'mic', '#0000ff', 1.6, [], { tension: 0 }),
      curve(microInverse, 'mic', '#0000ff', 3, [3, 5], { tension: 0, borderJoinStyle: 'miter' }),
      {
        data: toPoints(microShade, 1), xAxisID: 'mic', yAxisID: 'y',
        borderColor: 'transparent', pointRadius: 0, tension: 0,
        fill: '+1', backgroundColor: shade, spanGaps: false
      },
      {
        data: toPoints(microShade, 2), xAxisID: 'mic', yAxisID: 'y',
        borderColor: 'transparent', pointRadius: 0, tension: 0, fill: false, spanGaps: false
      }
    ]
  },
  options: Object.assign({}, common, {
    layout: { padding: { left: 146, right: 24, top: 0, bottom: 0 }, autoPadding: false },
    scales: {
      y: depthAxis(),
      por: gridAxis(-10, 30, 2, v => (v === 30 || v === -10 ? 3.5 : (v === 20 || v === 10 || v === 0) ? 2.2 : 1), true),
      pe: hiddenAxis(0, 20),
      mic: hiddenAxis(-30, 10)
    }
  }),
  plugins: [depthColumn]
});
</script>
</body>
</html>
